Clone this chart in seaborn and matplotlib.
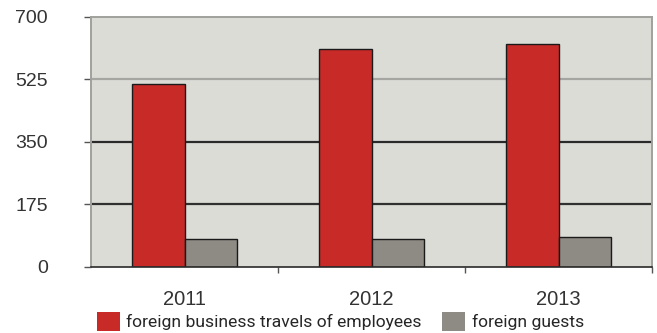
import matplotlib
matplotlib.use("Agg")
import matplotlib.pyplot as plt
import seaborn as sns
import pandas as pd
from matplotlib.patches import Patch

years = ["2011", "2012", "2013"]
business_travels = [511, 610, 625]
foreign_guests = [77, 77, 83]
series_names = ["foreign business travels of employees", "foreign guests"]
y_ticks = [0, 175, 350, 525, 700]

colors = ["#c82a28", "#8e8a84"]

df = pd.DataFrame({
    "year": years * 2,
    "value": business_travels + foreign_guests,
    "series": [series_names[0]] * 3 + [series_names[1]] * 3,
})

sns.set_theme(style="white")
plt.rcParams["font.family"] = ["Liberation Sans", "DejaVu Sans"]

fig = plt.figure(figsize=(6.57, 3.33), dpi=100)
ax = fig.add_axes([0.1385, 0.199, 0.854, 0.75])
ax.set_facecolor("#dcdcd7")

sns.barplot(data=df, x="year", y="value", hue="series", palette=colors,
            saturation=1, width=0.56, gap=0, edgecolor="#1a1a1a",
            linewidth=1.0, legend=False, ax=ax)

ax.set_xlim(-0.5, 2.5)
ax.set_ylim(0, 700)
ax.set_yticks(y_ticks)
ax.set_yticklabels([str(v) for v in y_ticks])
ax.set_xlabel("")
ax.set_ylabel("")

# gridlines behind the bars
ax.set_axisbelow(True)
ax.yaxis.grid(True, linewidth=1.6)
grid_colors = {0: "none", 175: "#303030", 350: "#2a2a2a", 525: "#a5a5a2", 700: "none"}
for val, gl in zip(y_ticks, ax.get_ygridlines()):
    gl.set_color(grid_colors[val])

for side in ["top", "right", "left"]:
    ax.spines[side].set_visible(True)
    ax.spines[side].set_color("#a0a09d")
    ax.spines[side].set_linewidth(1.4)
ax.spines["bottom"].set_color("#2a2a2a")
ax.spines["bottom"].set_linewidth(1.2)

ax.tick_params(axis="y", which="major", left=True, length=5, width=1,
               color="#555555", pad=26, labelsize=14, labelcolor="#333333")
ax.tick_params(axis="x", which="major", bottom=False, length=0, pad=17,
               labelsize=14.5, labelcolor="#333333")
ax.set_xticks([0.5, 1.5, 2.5], minor=True)
ax.tick_params(axis="x", which="minor", bottom=True, length=4, width=1,
               color="#555555")

handles = [Patch(facecolor=c, edgecolor="none") for c in colors]
fig.legend(handles, series_names, loc="lower left", bbox_to_anchor=(0.123, -0.04),
           ncol=2, frameon=False, handlelength=1.32, handleheight=1.25,
           handletextpad=0.38, columnspacing=1.15,
           prop={"family": "Roboto", "size": 12.6})

fig.savefig("out.png", dpi=100, facecolor="white")
